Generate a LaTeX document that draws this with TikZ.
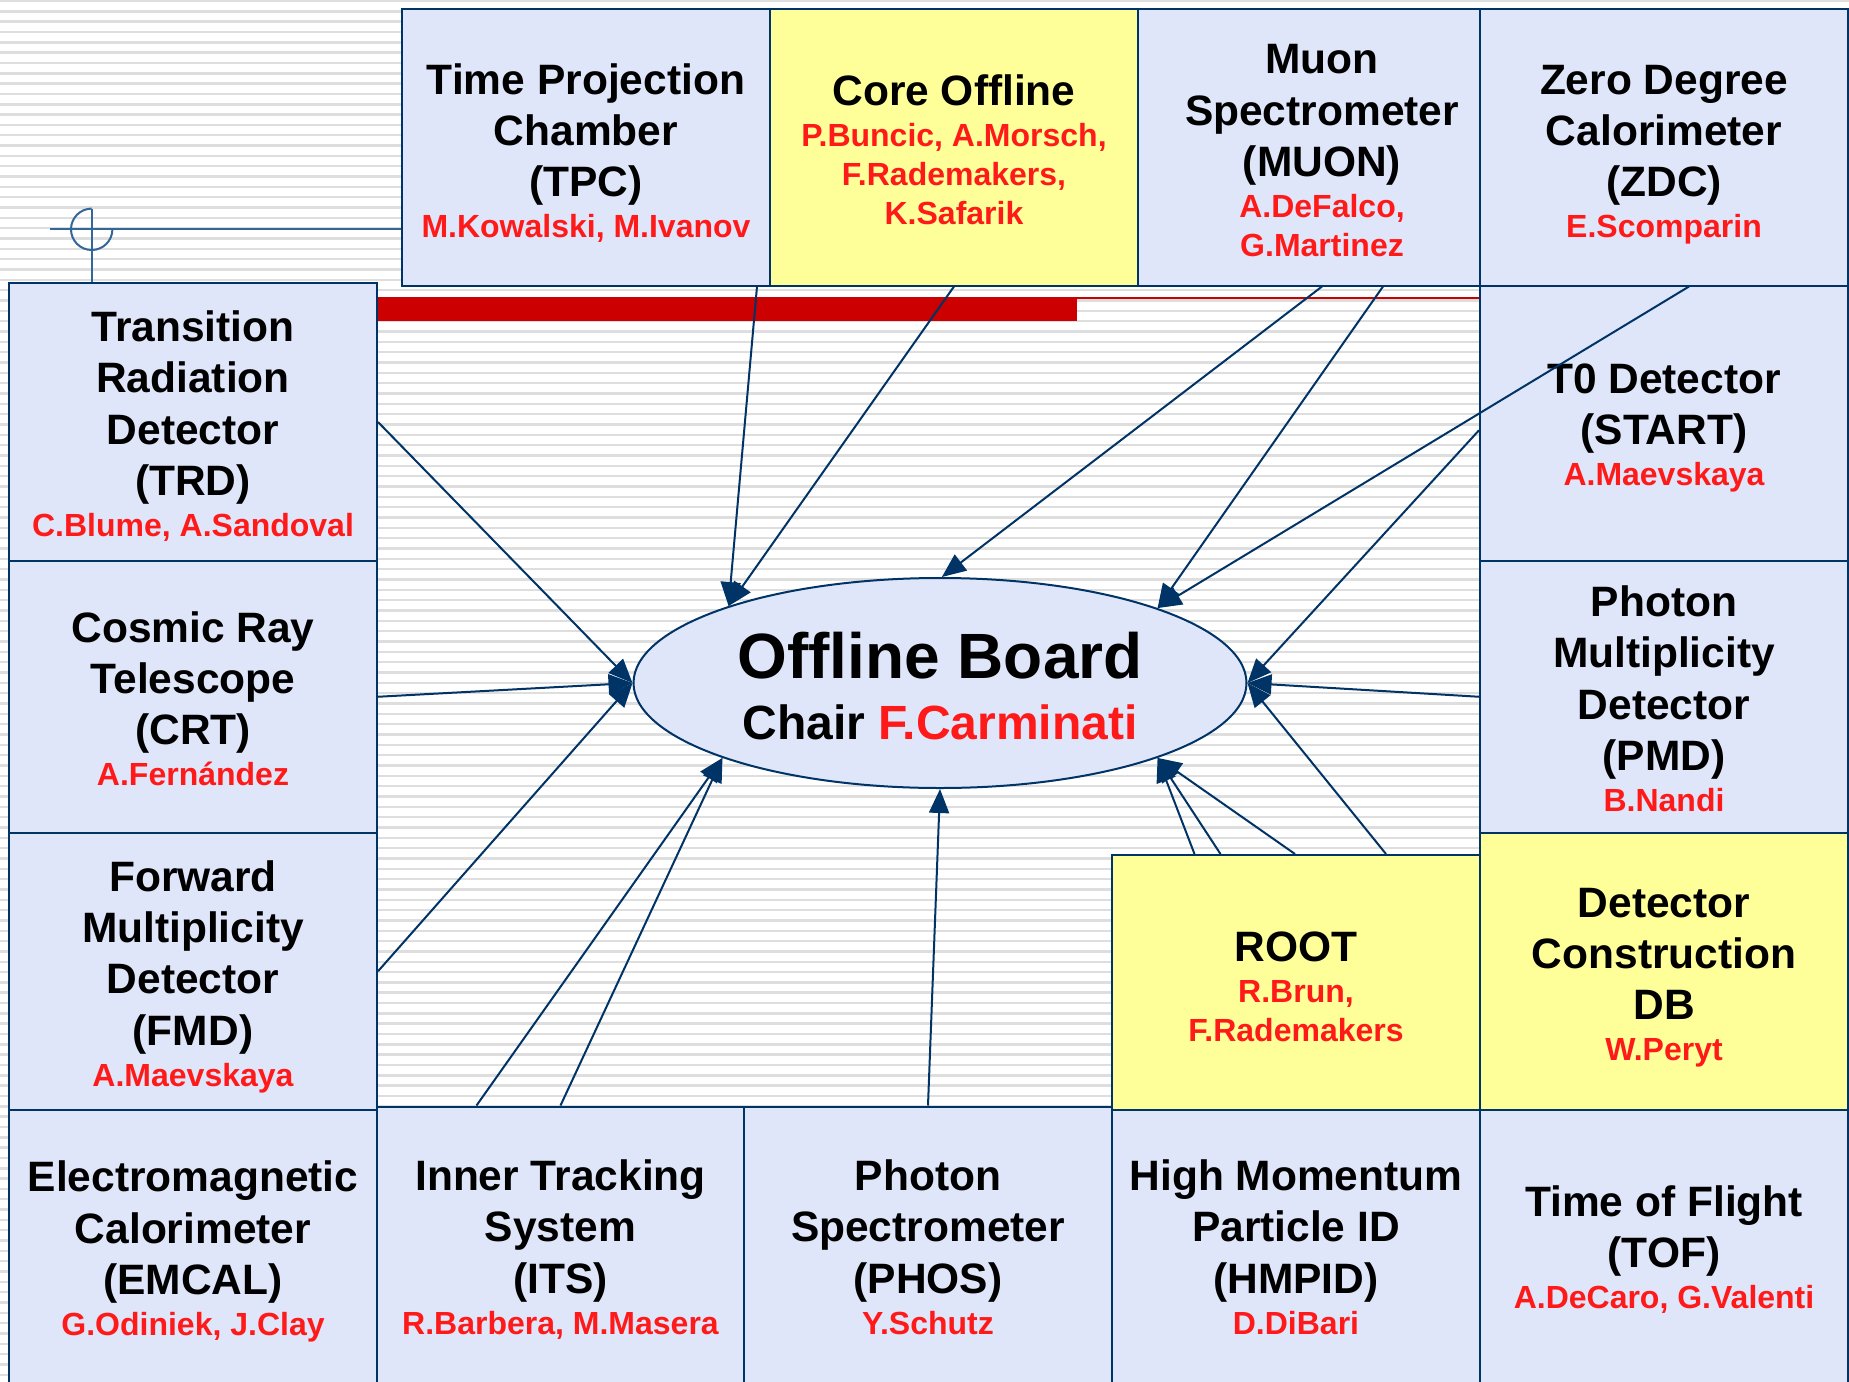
\documentclass[tikz,border=0pt]{standalone}
\usepackage{fontspec}
\setmainfont{Liberation Sans}[Ligatures=NoCommon]
\usetikzlibrary{shapes.geometric,arrows.meta}
\definecolor{navy}{RGB}{0,51,102}
\definecolor{boxfill}{RGB}{224,230,250}
\definecolor{boxyellow}{RGB}{255,255,153}
\definecolor{nred}{RGB}{255,26,26}
\definecolor{barred}{RGB}{204,0,0}
\definecolor{crossblue}{RGB}{51,102,153}
\definecolor{stripegray}{RGB}{222,222,222}
\newcommand\blk[1]{{\fontsize{42.5}{51.3}\selectfont\spaceskip=.278em\relax\xspaceskip=.278em\relax #1\par}}
\newcommand\nms[1]{{\vspace{2.1pt}\fontsize{32}{38.9}\selectfont\spaceskip=.278em\relax\xspaceskip=.278em\relax\leavevmode\color{nred}#1\par}}
\newcommand\tS{\rule{0pt}{32pt}}
\newcommand\bS{\rule[-9pt]{0pt}{9pt}}
\begin{document}
\begin{tikzpicture}[x=1pt,y=-1pt,
  det/.style={draw=navy, line width=2pt, fill=boxfill, inner sep=0pt},
  yel/.style={det, fill=boxyellow},
  txt/.style={inner sep=0pt, text width=345pt, align=center,
    font=\bfseries\setlength\parindent{0pt}\setlength\parskip{0pt}},
  conn/.style={draw=navy, line width=2pt, -{Triangle[length=24pt,width=20pt]}},
  stripe/.style={draw=stripegray, line width=2.4pt},
  cross/.style={draw=crossblue, line width=2pt}]
\useasboundingbox (0,0) rectangle (1849,1381);
\clip (0,0) rectangle (1849,1381);
\fill[white] (0,0) rectangle (1849,1381);
\foreach \k in {0,...,133} {\draw[stripe] (0,{1+10.33*\k}) -- (1849,{1+10.33*\k});}
% red bar
\fill[barred] (377,297) rectangle (1077,321);
\draw[barred, line width=2pt] (1077,298) -- (1480,298);
% crosshair
\draw[cross] (50,229.3) -- (402,229.3);
\draw[cross] (91.7,208.6) -- (91.7,283);
\draw[cross] (91.7,208.6) arc[start angle=90, end angle=360, radius=20.7pt];
% boxes
\node[det, minimum width=368pt, minimum height=276.5pt] (tpc) at (586,147.25) {};
\node[yel, minimum width=368pt, minimum height=276.5pt] (core) at (954,147.25) {};
\node[det, minimum width=368pt, minimum height=276.5pt] (muon) at (1322,147.25) {};
\node[det, minimum width=368pt, minimum height=276.5pt] (zdc) at (1664,147.25) {};
\node[det, minimum width=368pt, minimum height=278pt] (trd) at (193,422) {};
\node[det, minimum width=368pt, minimum height=271.5pt] (crt) at (193,696.75) {};
\node[det, minimum width=368pt, minimum height=277.5pt] (fmd) at (193,971.25) {};
\node[det, minimum width=368pt, minimum height=290pt] (emcal) at (193,1255) {};
\node[det, minimum width=367pt, minimum height=293.5pt] (its) at (560.5,1253.25) {};
\node[det, minimum width=368pt, minimum height=293.5pt] (phos) at (928,1253.25) {};
\node[det, minimum width=368pt, minimum height=290pt] (hmpid) at (1296,1255) {};
\node[det, minimum width=368pt, minimum height=290pt] (tof) at (1664,1255) {};
\node[det, minimum width=368pt, minimum height=275.5pt] (t0) at (1664,423.25) {};
\node[det, minimum width=368pt, minimum height=271.5pt] (pmd) at (1664,696.75) {};
\node[yel, minimum width=368pt, minimum height=277.5pt] (db) at (1664,971.25) {};
\node[yel, minimum width=368pt, minimum height=255pt] (root) at (1296,982.5) {};
% box texts
\node[txt] (tpct) at (586,154.3) {\blk{\tS Time Projection\\Chamber\\(TPC)}\nms{M.Kowalski, M.Ivanov\bS}};
\node[txt] (coret) at (954,153.7) {\blk{\tS Core Offline}\nms{P.Buncic, A.Morsch,\\F.Rademakers,\\K.Safarik\bS}};
\node[txt] (muont) at (1322,153.75) {\blk{\tS Muon\\Spectrometer\\(MUON)}\nms{A.DeFalco,\\G.Martinez\bS}};
\node[txt] (zdct) at (1664,154.3) {\blk{\tS Zero Degree\\Calorimeter\\(ZDC)}\nms{E.Scomparin\bS}};
\node[txt] (trdt) at (193,427.6) {\blk{\tS Transition\\Radiation\\Detector\\(TRD)}\nms{C.Blume, A.Sandoval\bS}};
\node[txt] (crtt) at (193,702.6) {\blk{\tS Cosmic Ray\\Telescope\\(CRT)}\nms{A.Fernández\bS}};
\node[txt] (fmdt) at (193,977.1) {\blk{\tS Forward\\Multiplicity\\Detector\\(FMD)}\nms{A.Maevskaya\bS}};
\node[txt] (emcalt) at (193,1252.1) {\blk{\tS Electromagnetic\\Calorimeter\\(EMCAL)}\nms{G.Odiniek, J.Clay\bS}};
\node[txt] (itst) at (560.5,1250.9) {\blk{\tS Inner Tracking\\System\\(ITS)}\nms{R.Barbera, M.Masera\bS}};
\node[txt] (phost) at (928,1250.9) {\blk{\tS Photon\\Spectrometer\\(PHOS)}\nms{Y.Schutz\bS}};
\node[txt] (hmpidt) at (1296,1250.9) {\blk{\tS High Momentum\\Particle ID\\(HMPID)}\nms{D.DiBari\bS}};
\node[txt] (toft) at (1664,1251.3) {\blk{\tS Time of Flight\\(TOF)}\nms{A.DeCaro, G.Valenti\bS}};
\node[txt] (t0t) at (1664,428.2) {\blk{\tS T0 Detector\\(START)}\nms{A.Maevskaya\bS}};
\node[txt] (pmdt) at (1664,702.4) {\blk{\tS Photon\\Multiplicity\\Detector\\(PMD)}\nms{B.Nandi\bS}};
\node[txt] (dbt) at (1664,977.4) {\blk{\tS Detector\\Construction\\DB}\nms{W.Peryt\bS}};
\node[txt] (roott) at (1296,990.4) {\blk{\tS ROOT}\nms{R.Brun,\\F.Rademakers\bS}};
% central ellipse
\node[ellipse, draw=navy, line width=2pt, fill=boxfill, minimum width=613pt, minimum height=210pt, inner sep=0pt] (ob) at (940,683) {};
\node[anchor=base, inner sep=0pt, font=\bfseries\fontsize{64}{77}\selectfont] (obt) at (940,678) {Offline Board};
\node[anchor=base, inner sep=0pt, font=\bfseries\fontsize{48}{58}\selectfont] (obc) at (940,739) {Chair \textcolor{nred}{F.Carminati}};
% connectors
\draw[conn] ([xshift=-14pt]tpc.south east) -- (ob.160);
\draw[conn] (core.south) -- (ob.160);
\draw[conn] (muon.south) -- (ob.89);
\draw[conn] ([xshift=61pt]muon.south) -- (ob.19);
\draw[conn] ([xshift=25pt]zdc.south) -- (ob.19);
\draw[conn] ([yshift=-7pt]t0.west) -- (ob.east);
\draw[conn] (pmd.west) -- (ob.east);
\draw[conn] ([xshift=90pt]root.north) -- (ob.east);
\draw[conn] ([xshift=-1pt]root.north) -- (ob.341);
\draw[conn] ([xshift=-75.5pt]root.north) -- (ob.341);
\draw[conn] ([xshift=-101.5pt]root.north) -- (ob.341);
\draw[conn] (phos.north) -- (ob.south);
\draw[conn] ([xshift=-84pt]its.north) -- (ob.199);
\draw[conn] (its.north) -- (ob.199);
\draw[conn] (fmd.east) -- (ob.west);
\draw[conn] (crt.east) -- (ob.west);
\draw[conn] (trd.east) -- (ob.west);
\end{tikzpicture}
\end{document}
